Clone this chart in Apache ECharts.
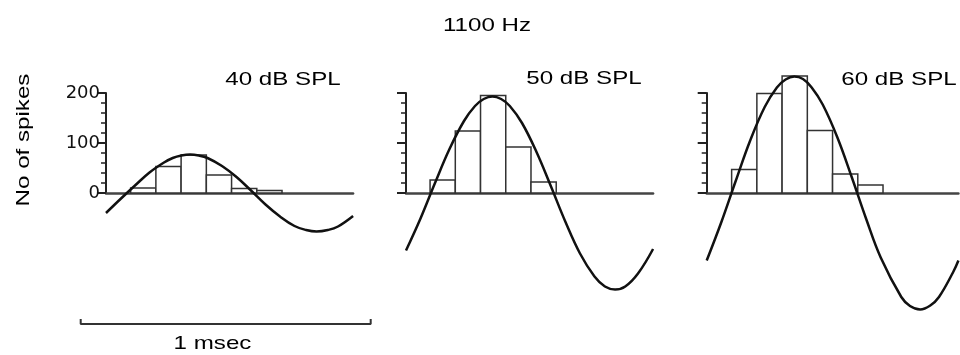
<!DOCTYPE html>
<html>
<head>
<meta charset="utf-8">
<title>1100 Hz</title>
<script src="https://cdn.jsdelivr.net/npm/echarts@6.0.0/dist/echarts.min.js"></script>
<style>
  html, body { margin: 0; padding: 0; background: #fff; }
  #chart { width: 960px; height: 355px; }
</style>
</head>
<body>
<div id="chart"></div>
<script>
// stimulus level of each panel
const levels = ['40 dB SPL', '50 dB SPL', '60 dB SPL']

// period histograms: bins are 87 us wide, time counted from the y axis
const binWidth = 87
const binStarts = [85, 83, 86]
const counts40 = [10, 53, 76, 36, 9, 5]
const counts50 = [26, 124, 195, 92, 22]
const counts60 = [47, 199, 234, 125, 38, 16]

// fitted sine (time in us, value in spikes)
const sineTimes40 = [0, 50, 100, 150, 200, 230, 260, 290, 320, 350, 400, 450, 500, 550, 600, 650, 690, 726, 765, 800, 852]
const sine40 = [-40, -12, 15, 41, 61, 70, 75, 77, 75, 70, 54, 32, 5, -23, -47, -66, -74, -77, -74, -67, -46]
const sineTimes50 = [0, 50, 100, 150, 200, 238, 268, 298, 328, 358, 400, 450, 500, 550, 600, 650, 686, 721, 756, 800, 852]
const sine50 = [-115, -51, 20, 88, 144, 174, 188, 193, 188, 174, 140, 82, 13, -58, -121, -167, -187, -193, -187, -161, -112]
const sineTimes60 = [0, 50, 100, 150, 200, 242, 272, 302, 332, 362, 400, 450, 500, 550, 600, 671, 701, 736, 771, 801, 850, 868]
const sine60 = [-135, -59, 24, 105, 172, 211, 227, 233, 228, 211, 177, 112, 32, -52, -129, -208, -226, -233, -225, -208, -158, -135]

// shown time span of each panel (us) and the scale bar length (us)
const panelSpans = [852, 852, 868]
const scaleBarUs = 1000

const counts = [counts40, counts50, counts60]
const sineTimes = [sineTimes40, sineTimes50, sineTimes60]
const sines = [sine40, sine50, sine60]

// layout
const pxPerUs = 0.29
const panelLeft = [106, 406, 706.7]
const labelPos = [[283, 79.5], [584, 78.7], [899, 80]]
const textFont = '19px "Liberation Sans", Arial, sans-serif'
const textStretch = 1.27

const grid = []
const xAxis = []
const yAxis = []
const series = []

// data grids (0..2)
panelLeft.forEach( ( left, i ) => {
  grid.push( { left : left, top : 68, width : panelSpans[i] * pxPerUs, height : 250, outerBoundsMode : 'none' } )
  xAxis.push( {
    gridIndex : i, type : 'value', min : 0, max : panelSpans[i],
    axisLine : { show : true, onZero : true, lineStyle : { color : '#444', width : 2.5 } },
    axisTick : { show : false }, axisLabel : { show : false }, splitLine : { show : false }
  } )
  yAxis.push( { gridIndex : i, type : 'value', min : -250, max : 250, show : false } )
} )

// spike-count axes (3..5), only the 0-200 part
panelLeft.forEach( ( left, i ) => {
  grid.push( { left : left, top : 93, width : panelSpans[i] * pxPerUs, height : 100, outerBoundsMode : 'none' } )
  xAxis.push( { gridIndex : 3 + i, type : 'value', min : 0, max : panelSpans[i], show : false } )
  yAxis.push( {
    gridIndex : 3 + i, type : 'value', min : 0, max : 200, interval : 100,
    axisLine : { show : true, lineStyle : { color : '#222', width : 2 } },
    axisTick : { show : true, length : 9, lineStyle : { color : '#222', width : 2 } },
    minorTick : { show : true, splitNumber : 5, length : 5, lineStyle : { color : '#222', width : 1.5 } },
    splitLine : { show : false },
    axisLabel : { show : i === 0, margin : 6, fontSize : 18, fontFamily : 'DejaVu Sans', color : '#111' }
  } )
} )

// scale bar grid (6)
grid.push( { left : 80.7, top : 319, width : scaleBarUs * pxPerUs, height : 5, outerBoundsMode : 'none' } )
xAxis.push( { gridIndex : 6, type : 'value', min : 0, max : scaleBarUs, show : false } )
yAxis.push( { gridIndex : 6, type : 'value', min : 0, max : 1, show : false } )

counts.forEach( ( list, i ) => {
  const bins = list.map( ( c, k ) => {
    const start = binStarts[i] + k * binWidth
    return [start, start + binWidth, c]
  } )
  series.push( {
    type : 'custom',
    xAxisIndex : i,
    yAxisIndex : i,
    data : bins,
    encode : { x : [0, 1], y : 2 },
    z : 2,
    renderItem : ( params, api ) => {
      const p0 = api.coord( [api.value( 0 ), api.value( 2 )] )
      const p1 = api.coord( [api.value( 1 ), 0] )
      return {
        type : 'rect',
        shape : { x : p0[0], y : p0[1], width : p1[0] - p0[0], height : p1[1] - p0[1] },
        style : { fill : '#fff', stroke : '#333', lineWidth : 1.5 }
      }
    }
  } )
  series.push( {
    type : 'line',
    xAxisIndex : i,
    yAxisIndex : i,
    data : sineTimes[i].map( ( t, k ) => [t, sines[i][k]] ),
    smooth : 0.4,
    symbol : 'none',
    z : 4,
    lineStyle : { color : '#111', width : 2.5 }
  } )
} )

series.push( {
  type : 'line',
  xAxisIndex : 6,
  yAxisIndex : 6,
  data : [[0, 1], [0, 0], [scaleBarUs, 0], [scaleBarUs, 1]],
  symbol : 'none',
  lineStyle : { color : '#333', width : 2 }
} )

const label = ( text, x, y, rotation ) => ( {
  type : 'text',
  x : x,
  y : y,
  rotation : rotation || 0,
  scaleX : textStretch,
  style : { text : text, font : textFont, fill : '#000', align : 'center', verticalAlign : 'middle' }
} )

const graphic = [
  label( '1100 Hz', 487, 26 ),
  label( 'No of spikes', 24, 140, Math.PI / 2 ),
  label( '1 msec', 212.5, 343.5 )
]
levels.forEach( ( t, i ) => graphic.push( label( t, labelPos[i][0], labelPos[i][1] ) ) )

const chart = echarts.init( document.getElementById( 'chart' ) )
chart.setOption( {
  animation : false,
  backgroundColor : '#fff',
  grid : grid,
  xAxis : xAxis,
  yAxis : yAxis,
  series : series,
  graphic : graphic
} )
</script>
</body>
</html>
